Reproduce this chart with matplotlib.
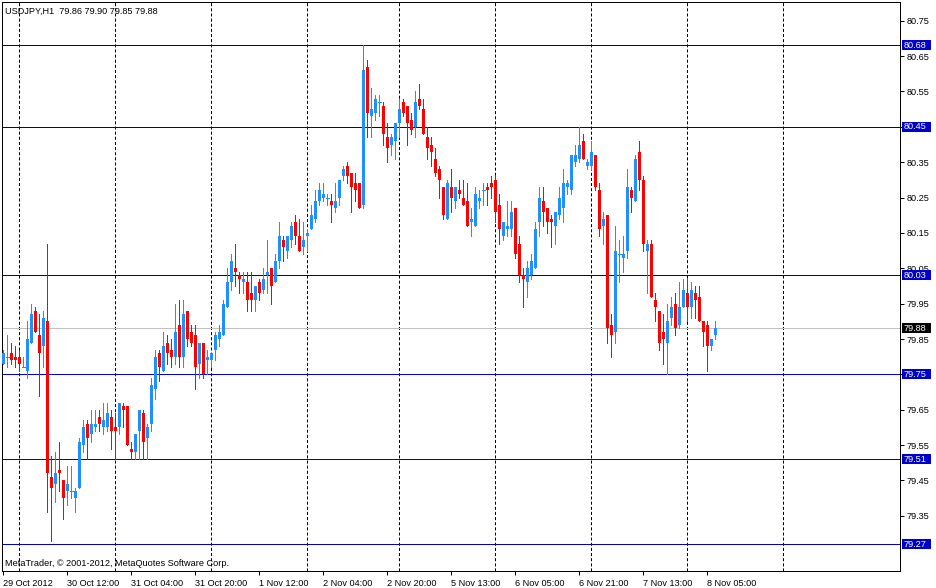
import matplotlib
matplotlib.use("Agg")
import matplotlib.pyplot as plt
import matplotlib.transforms as mtransforms
from matplotlib.patches import Rectangle

# hourly USDJPY bars (oldest first)
opens = [79.78, 79.80, 79.81, 79.80, 79.80, 79.77, 79.76, 79.84, 79.93, 79.86,
         79.83, 79.90, 79.46, 79.44, 79.48, 79.45, 79.42, 79.42, 79.40, 79.43,
         79.55, 79.61, 79.58, 79.60, 79.63, 79.60, 79.60, 79.63, 79.60, 79.60,
         79.66, 79.66, 79.54, 79.53, 79.59, 79.64, 79.57, 79.61, 79.71, 79.81,
         79.76, 79.84, 79.82, 79.80, 79.89, 79.80, 79.93, 79.87, 79.86, 79.78,
         79.84, 79.79, 79.79, 79.82, 79.85, 79.86, 79.94, 80.01, 80.05, 80.03,
         80.01, 80.01, 79.98, 79.96, 80.01, 79.99, 80.03, 80.05, 80.01, 80.07,
         80.13, 80.10, 80.13, 80.18, 80.14, 80.11, 80.14, 80.16, 80.19, 80.24,
         80.25, 80.25, 80.24, 80.22, 80.25, 80.31, 80.34, 80.32, 80.29, 80.29,
         80.23, 80.62, 80.48, 80.49, 80.52, 80.51, 80.42, 80.40, 80.41, 80.46,
         80.52, 80.51, 80.47, 80.45, 80.53, 80.50, 80.42, 80.40, 80.36, 80.33,
         80.28, 80.19, 80.28, 80.24, 80.27, 80.25, 80.24, 80.18, 80.17, 80.24,
         80.27, 80.28, 80.29, 80.30, 80.23, 80.14, 80.16, 80.16, 80.22, 80.12,
         80.03, 80.01, 80.03, 80.05, 80.18, 80.24, 80.22, 80.19, 80.17, 80.20,
         80.22, 80.28, 80.27, 80.35, 80.36, 80.41, 80.34, 80.34, 80.37, 80.27,
         80.17, 80.20, 79.89, 79.87, 80.09, 80.08, 80.10, 80.27, 80.24, 80.38,
         80.30, 80.10, 80.12, 79.96, 79.93, 79.87, 79.84, 79.91, 79.95, 79.89,
         79.94, 79.98, 79.94, 79.98, 79.97, 79.90, 79.89, 79.83, 79.86]
highs = [79.82, 79.86, 79.84, 79.83, 79.82, 79.80, 79.90, 79.95, 79.94, 79.92,
         79.93, 80.12, 79.52, 79.53, 79.56, 79.45, 79.49, 79.49, 79.43, 79.57,
         79.62, 79.62, 79.65, 79.65, 79.65, 79.67, 79.67, 79.65, 79.64, 79.67,
         79.67, 79.66, 79.56, 79.58, 79.65, 79.65, 79.61, 79.74, 79.82, 79.82,
         79.87, 79.86, 79.85, 79.95, 79.96, 79.96, 79.93, 79.89, 79.89, 79.84,
         79.84, 79.82, 79.81, 79.87, 79.89, 79.96, 80.05, 80.09, 80.12, 80.04,
         80.04, 80.04, 80.04, 80.00, 80.02, 80.05, 80.13, 80.05, 80.09, 80.18,
         80.14, 80.14, 80.18, 80.20, 80.19, 80.18, 80.16, 80.23, 80.27, 80.29,
         80.29, 80.26, 80.26, 80.29, 80.30, 80.34, 80.35, 80.32, 80.32, 80.29,
         80.68, 80.64, 80.56, 80.54, 80.54, 80.52, 80.46, 80.43, 80.46, 80.53,
         80.53, 80.51, 80.49, 80.55, 80.57, 80.53, 80.45, 80.42, 80.39, 80.34,
         80.28, 80.30, 80.33, 80.28, 80.30, 80.30, 80.29, 80.22, 80.28, 80.27,
         80.29, 80.29, 80.31, 80.31, 80.26, 80.18, 80.24, 80.24, 80.22, 80.14,
         80.05, 80.07, 80.09, 80.18, 80.28, 80.28, 80.22, 80.20, 80.21, 80.28,
         80.33, 80.30, 80.37, 80.40, 80.45, 80.43, 80.36, 80.41, 80.37, 80.29,
         80.21, 80.20, 79.92, 80.17, 80.13, 80.14, 80.33, 80.28, 80.37, 80.41,
         80.31, 80.13, 80.13, 79.98, 79.93, 79.92, 79.95, 79.97, 79.98, 80.01,
         80.02, 80.02, 80.01, 80.00, 80.00, 79.90, 79.90, 79.85, 79.90]
lows = [79.78, 79.77, 79.78, 79.77, 79.76, 79.77, 79.74, 79.84, 79.87, 79.69,
        79.77, 79.36, 79.28, 79.39, 79.42, 79.34, 79.38, 79.40, 79.36, 79.43,
        79.53, 79.51, 79.56, 79.59, 79.59, 79.58, 79.59, 79.54, 79.51, 79.58,
        79.60, 79.55, 79.51, 79.51, 79.51, 79.51, 79.51, 79.59, 79.68, 79.73,
        79.76, 79.78, 79.77, 79.78, 79.77, 79.77, 79.83, 79.83, 79.71, 79.74,
        79.74, 79.75, 79.77, 79.79, 79.83, 79.86, 79.94, 79.99, 80.00, 79.98,
        79.98, 79.93, 79.93, 79.93, 79.96, 79.98, 79.98, 79.95, 80.01, 80.05,
        80.07, 80.08, 80.11, 80.12, 80.10, 80.09, 80.10, 80.16, 80.18, 80.23,
        80.24, 80.23, 80.18, 80.21, 80.23, 80.30, 80.29, 80.21, 80.24, 80.22,
        80.22, 80.42, 80.42, 80.47, 80.48, 80.40, 80.35, 80.37, 80.36, 80.42,
        80.48, 80.40, 80.43, 80.42, 80.50, 80.43, 80.36, 80.34, 80.31, 80.25,
        80.19, 80.19, 80.21, 80.22, 80.25, 80.23, 80.17, 80.14, 80.17, 80.22,
        80.23, 80.23, 80.25, 80.18, 80.12, 80.13, 80.14, 80.14, 80.08, 80.01,
        79.94, 79.97, 80.02, 80.05, 80.14, 80.17, 80.15, 80.11, 80.12, 80.19,
        80.18, 80.26, 80.26, 80.34, 80.35, 80.36, 80.33, 80.33, 80.27, 80.14,
        80.12, 79.84, 79.80, 79.84, 80.01, 80.04, 80.08, 80.21, 80.24, 80.27,
        80.10, 79.98, 79.97, 79.90, 79.82, 79.78, 79.75, 79.89, 79.86, 79.88,
        79.94, 79.90, 79.91, 79.91, 79.90, 79.83, 79.76, 79.82, 79.85]
closes = [79.81, 79.80, 79.79, 79.79, 79.78, 79.77, 79.85, 79.92, 79.87, 79.81,
          79.91, 79.47, 79.43, 79.47, 79.47, 79.40, 79.44, 79.42, 79.42, 79.56,
          79.60, 79.57, 79.61, 79.61, 79.61, 79.62, 79.64, 79.59, 79.59, 79.67,
          79.65, 79.55, 79.53, 79.58, 79.65, 79.56, 79.60, 79.72, 79.80, 79.77,
          79.83, 79.81, 79.80, 79.87, 79.80, 79.92, 79.85, 79.84, 79.77, 79.84,
          79.75, 79.80, 79.81, 79.86, 79.87, 79.95, 80.01, 80.07, 80.04, 80.02,
          80.02, 79.96, 79.96, 80.00, 79.98, 80.02, 80.04, 80.00, 80.07, 80.14,
          80.11, 80.14, 80.17, 80.14, 80.10, 80.13, 80.15, 80.20, 80.24, 80.27,
          80.26, 80.25, 80.23, 80.24, 80.30, 80.33, 80.31, 80.28, 80.27, 80.22,
          80.61, 80.49, 80.50, 80.53, 80.52, 80.43, 80.39, 80.42, 80.46, 80.50,
          80.49, 80.46, 80.44, 80.52, 80.51, 80.43, 80.39, 80.38, 80.32, 80.30,
          80.20, 80.29, 80.25, 80.28, 80.26, 80.23, 80.17, 80.19, 80.26, 80.25,
          80.27, 80.27, 80.28, 80.21, 80.16, 80.18, 80.17, 80.21, 80.09, 80.03,
          80.02, 80.05, 80.07, 80.16, 80.25, 80.21, 80.18, 80.18, 80.21, 80.25,
          80.29, 80.29, 80.37, 80.37, 80.40, 80.36, 80.35, 80.38, 80.28, 80.16,
          80.19, 79.88, 79.86, 80.10, 80.09, 80.09, 80.28, 80.25, 80.36, 80.30,
          80.12, 80.12, 79.97, 79.94, 79.84, 79.85, 79.90, 79.94, 79.88, 79.94,
          79.99, 79.94, 79.99, 79.96, 79.90, 79.87, 79.83, 79.85, 79.88]

levels_dark = [80.68, 80.45, 80.03]
levels_blue = [79.75, 79.51, 79.27]
bid = 79.88

day_starts = [4, 28, 52, 76, 99, 123, 147, 171, 195]
label_bars = [0, 16, 32, 48, 64, 80, 96, 112, 128, 144, 160, 176]
label_text = ["29 Oct 2012", "30 Oct 12:00", "31 Oct 04:00", "31 Oct 20:00",
              "1 Nov 12:00", "2 Nov 04:00", "2 Nov 20:00", "5 Nov 13:00",
              "6 Nov 05:00", "6 Nov 21:00", "7 Nov 13:00", "8 Nov 05:00"]
price_ticks = [80.75, 80.65, 80.55, 80.45, 80.35, 80.25, 80.15, 80.05,
               79.95, 79.85, 79.75, 79.65, 79.55, 79.45, 79.35]

plt.rcParams['font.family'] = ['Liberation Sans', 'DejaVu Sans']
plt.rcParams['lines.scale_dashes'] = False
FS = 6.6
PX = 0.72  # one pixel in points at 100 dpi

W, H = 937, 588
fig = plt.figure(figsize=(W / 100, H / 100), dpi=100)
ax = fig.add_axes([2 / W, 17 / H, 898 / W, 569 / H])
ax.set_xlim(-0.325, 224.2)
ax.set_ylim(79.194, 80.803)

# day separators
for d in day_starts:
    ax.axvline(d, color='black', lw=PX, dashes=(2.2, 1.5), zorder=1)

# horizontal levels
for lv in levels_dark:
    ax.axhline(lv, color='#000090', lw=PX, zorder=2)
for lv in levels_blue:
    ax.axhline(lv, color='#0000CC', lw=PX, zorder=2)
ax.axhline(bid, color='#C0C0C0', lw=PX, zorder=2)

# candles
up_col, dn_col = '#1E90FF', '#FF0000'
for i in range(len(opens)):
    o, h, l, c = opens[i], highs[i], lows[i], closes[i]
    col = up_col if c >= o else dn_col
    ax.vlines(i, l, h, color=col, lw=PX, zorder=3, antialiased=False)
    if abs(c - o) < 1e-9:
        ax.hlines(o, i - 0.38, i + 0.38, color=col, lw=PX, zorder=4,
                  antialiased=False)
    else:
        ax.bar(i, abs(c - o), bottom=min(o, c), width=0.72, color=col,
               lw=0, zorder=4, antialiased=False)

# axes styling
for s in ax.spines.values():
    s.set_linewidth(PX)
    s.set_color('black')
ax.yaxis.tick_right()
boxed = levels_dark + levels_blue + [bid]
ax.set_yticks(price_ticks)
# labels hidden under a price box are left blank, as on the terminal
ax.set_yticklabels(["" if any(abs(p - b) < 0.015 for b in boxed) and p != 80.05
                    else f"{p:.2f}" for p in price_ticks])
ax.tick_params(axis='y', length=3, width=PX, pad=2, labelsize=FS)
ax.set_xticks(label_bars)
ax.set_xticklabels(label_text)
ax.tick_params(axis='x', length=3, width=PX, pad=3, labelsize=FS)
for t in ax.get_xticklabels():
    t.set_horizontalalignment('left')

# price boxes on the right scale
trans = mtransforms.blended_transform_factory(ax.transAxes, ax.transData)
box_w = 29 / 898
box_h = 10 * (80.803 - 79.194) / 569


def price_box(p, fc):
    ax.add_patch(Rectangle((1 + 2 / 898, p - box_h / 2), box_w, box_h,
                           transform=trans, facecolor=fc, edgecolor='none',
                           clip_on=False, zorder=10))
    ax.text(1 + 4 / 898, p, f"{p:.2f}", transform=trans, color='white',
            fontsize=FS, ha='left', va='center', clip_on=False, zorder=11)


for lv in levels_dark + levels_blue:
    price_box(lv, '#0000CC')
price_box(bid, '#000000')

fig.text(5 / W, 1 - 11 / H, "USDJPY,H1  79.86 79.90 79.85 79.88",
         fontsize=FS, va='center', ha='left')
fig.text(5 / W, 1 - 563 / H, "MetaTrader, © 2001-2012, MetaQuotes Software Corp.",
         fontsize=FS, va='center', ha='left')

fig.savefig("out.png", dpi=100, facecolor='white')
